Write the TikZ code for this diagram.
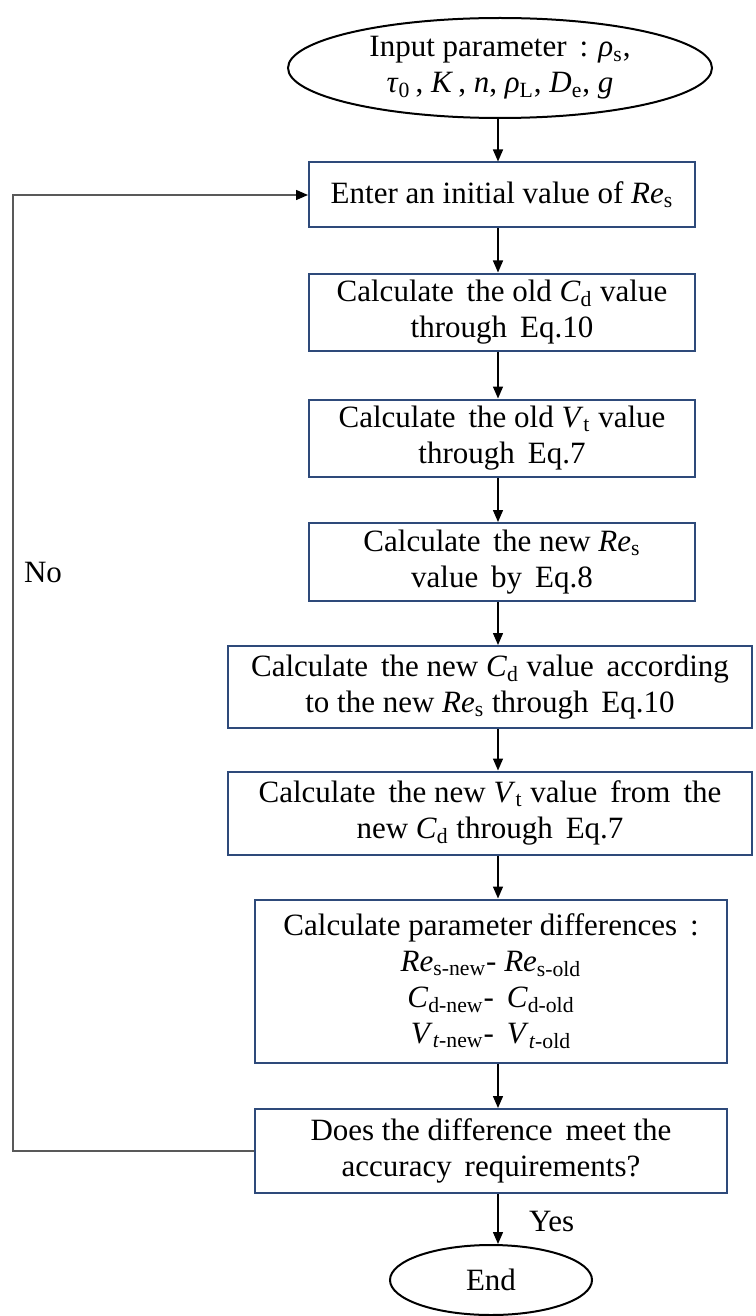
\documentclass[tikz,border=0pt]{standalone}
\usepackage{fontspec}
\setmainfont{Liberation Serif}
\usepackage{tikz}
\usetikzlibrary{shapes,arrows.meta,positioning}

\definecolor{boxline}{HTML}{2E4A7A}
\newcommand{\symb}[2]{\textit{#1}\textsubscript{#2}}

\begin{document}
\begin{tikzpicture}[x=0.5pt, y=-0.5pt]
			\tikzstyle{Txt}		= [font=\fontsize{15.5}{18}\selectfont, align=center]
			\tikzstyle{Term}	= [Txt, ellipse, draw, line width=1pt, inner sep=0pt]
			\tikzstyle{Proc}	= [Txt, rectangle, draw=boxline, line width=1pt, inner sep=2pt]
			\tikzstyle{Flow}	= [line width=0.7pt, -{Triangle[length=6pt,width=5pt]}]
			\tikzstyle{Back}	= [line width=0.7pt, draw=black!65, -{Triangle[length=6pt,width=5pt,black]}]

			\useasboundingbox (0,0) rectangle (755,1316);
			\coordinate (ax) at (498,0);

			\node (start) at (500,68) [Term, minimum width=212pt, minimum height=50pt]
				{Input parameter\, : \symb{ρ}{s},\\\symb{τ}{0}\,, \textit{K}\,, \textit{n}, \symb{ρ}{L}, \symb{D}{e}, \textit{g}};
			\node (b1) at (502,195) [Proc, minimum width=193pt, minimum height=32.5pt]
				{Enter an initial value of \symb{Re}{s}};
			\node (b2) at (502,312) [Proc, minimum width=193pt, minimum height=38.5pt]
				{Calculate\, the old \symb{C}{d} value\\through\, Eq.10};
			\node (b3) at (502,438) [Proc, minimum width=193pt, minimum height=38.5pt]
				{Calculate\, the old \symb{V}{t} value\\through\, Eq.7};
			\node (b4) at (502,562) [Proc, minimum width=193pt, minimum height=39pt]
				{Calculate\, the new \symb{Re}{s}\\value\, by\, Eq.8};
			\node (b5) at (490,687) [Proc, minimum width=262pt, minimum height=41pt]
				{Calculate\, the new \symb{C}{d} value\, according\\to the new \symb{Re}{s} through\, Eq.10};
			\node (b6) at (490,813) [Proc, minimum width=262pt, minimum height=41.5pt]
				{Calculate\, the new \symb{V}{t} value\, from\, the\\new \symb{C}{d} through\, Eq.7};
			\node (b7) at (491,981) [Proc, minimum width=236pt, minimum height=81.5pt]
				{Calculate parameter differences\, :\\
				 \symb{Re}{s-new}- \symb{Re}{s-old}\\
				 \symb{C}{d-new}-\, \symb{C}{d-old}\\
				 \symb{V}{\textit{t}-new}-\, \symb{V}{\textit{t}-old}};
			\node (b8) at (491,1151) [Proc, minimum width=236pt, minimum height=42pt]
				{Does the difference\, meet the\\accuracy\, requirements?};
			\node (stop) at (491,1280) [Term, minimum width=101pt, minimum height=35pt] {End};

			\coordinate (left) at (13,0);
			\node (no) at (17,572) [Txt, anchor=west] {No};
			\node (yes) at (522,1221) [Txt, anchor=west] {Yes};

			\draw [Flow] (start.south -| ax) to (b1.north -| ax);
			\draw [Flow] (b1.south -| ax) to (b2.north -| ax);
			\draw [Flow] (b2.south -| ax) to (b3.north -| ax);
			\draw [Flow] (b3.south -| ax) to (b4.north -| ax);
			\draw [Flow] (b4.south -| ax) to (b5.north -| ax);
			\draw [Flow] (b5.south -| ax) to (b6.north -| ax);
			\draw [Flow] (b6.south -| ax) to (b7.north -| ax);
			\draw [Flow] (b7.south -| ax) to (b8.north -| ax);
			\draw [Flow] (b8.south -| ax) to (stop.north -| ax);

			\draw [Back] (b8.west) -- (b8.west -| left) -- (b1.west -| left) -- (b1.west);
		\end{tikzpicture}
\end{document}
